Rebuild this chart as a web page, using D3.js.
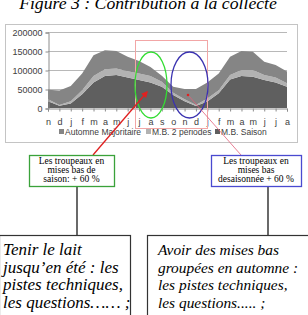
<!DOCTYPE html>
<html>
<head>
<meta charset="utf-8">
<script src="https://cdn.jsdelivr.net/npm/d3@7"></script>
<style>
	body { margin: 0; background: #fff; }
	svg { display: block; }
</style>
</head>
<body>
<div id="chart"></div>
<script>
// months, nov -> aug of the following year (22 points)
var months = ["n","d","j","f","m","a","m","j","j","a","s","o","n","d","j","f","m","a","m","j","j","a"];
var seriesNames = ["Automne Majoritaire", "M.B. 2 périodes", "M.B. Saison"];
// stacked from bottom: saison, 2 periodes, automne
var saison = [18000, 6000, 12000, 36000, 67000, 84000, 87000, 80000, 74000, 67000, 56000, 34000, 18000, 5000, 17000, 39000, 75000, 84000, 82000, 74000, 67000, 56000];
var deuxPeriodes = [5000, 2000, 6000, 11000, 17000, 18000, 17000, 17000, 17000, 17000, 13000, 6000, 5000, 3000, 8000, 8000, 12000, 16000, 18000, 13000, 13000, 9000];
var automne = [25000, 38000, 40000, 44000, 55000, 50000, 46000, 38000, 33000, 24000, 16000, 16000, 27000, 42000, 42000, 44000, 48000, 50000, 48000, 35000, 33000, 31000];
var yTicks = [0, 50000, 100000, 150000, 200000];

var W = 308, H = 315;
var svg = d3.select("#chart").append("svg")
	.attr("width", W)
	.attr("height", H);

// title (top is clipped in the original too)
svg.append("text")
	.attr("x", 148)
	.attr("y", 8.5)
	.attr("text-anchor", "middle")
	.style("font-family", "'Liberation Serif', 'DejaVu Serif', serif")
	.style("font-style", "italic")
	.style("font-size", "17.7px")
	.text("Figure 3 : Contribution à la collecte");

// chart frame
svg.append("rect")
	.attr("x", 5.5).attr("y", 24.5)
	.attr("width", 292).attr("height", 118)
	.style("fill", "none")
	.style("stroke", "#c4c4c4");

var x = d3.scalePoint().domain(d3.range(months.length)).range([48, 287]);
var y = d3.scaleLinear().domain([0, 200000]).range([108, 32]);

// gridlines
svg.selectAll(".grid")
	.data(yTicks.slice(1))
	.enter().append("line")
	.attr("x1", 48).attr("x2", 287)
	.attr("y1", function(d) { return Math.round(y(d)) + 0.5; })
	.attr("y2", function(d) { return Math.round(y(d)) + 0.5; })
	.style("stroke", "#b8b8b8");

// stacked areas
var table = months.map(function(m, i) {
	return { i: i, saison: saison[i], deux: deuxPeriodes[i], automne: automne[i] };
});
var stack = d3.stack().keys(["saison", "deux", "automne"]);
var layers = stack(table);
var colors = { saison: "#5f5f5f", deux: "#b2b2b2", automne: "#858585" };

var area = d3.area()
	.x(function(d) { return x(d.data.i); })
	.y0(function(d) { return y(d[0]); })
	.y1(function(d) { return y(d[1]); });

svg.selectAll(".layer")
	.data(layers)
	.enter().append("path")
	.attr("d", area)
	.style("fill", function(d) { return colors[d.key]; });

// axes
var yAxis = d3.axisLeft(y).tickValues(yTicks).tickSize(3).tickFormat(d3.format("d"));
var gy = svg.append("g").attr("transform", "translate(48.5,0.5)").call(yAxis);
gy.select(".domain").style("stroke", "#8c8c8c");
gy.selectAll(".tick line").style("stroke", "#8c8c8c");
gy.selectAll("text")
	.attr("x", -6)
	.style("font-family", "'Liberation Sans', Arial, sans-serif")
	.style("font-size", "9px")
	.style("fill", "#404040");

var xAxis = d3.axisBottom(x).tickSize(3).tickPadding(7).tickFormat(function(i) { return months[i]; });
var gx = svg.append("g").attr("transform", "translate(0,108.5)").call(xAxis);
gx.select(".domain").style("stroke", "#8c8c8c");
gx.selectAll(".tick line").style("stroke", "#8c8c8c");
gx.selectAll("text")
	.style("font-family", "'Liberation Sans', Arial, sans-serif")
	.style("font-size", "9px")
	.style("fill", "#404040");

// legend
var legendX = [59, 146, 215];
var legendColors = [colors.automne, colors.deux, colors.saison];
var legend = svg.selectAll(".legend")
	.data(seriesNames)
	.enter().append("g")
	.attr("transform", function(d, i) { return "translate(" + legendX[i] + ",135)"; });
legend.append("rect")
	.attr("x", 0).attr("y", -6)
	.attr("width", 5).attr("height", 5)
	.style("fill", function(d, i) { return legendColors[i]; });
legend.append("text")
	.attr("x", 6)
	.attr("y", 0)
	.style("font-family", "'Liberation Sans', Arial, sans-serif")
	.style("font-size", "8.5px")
	.style("fill", "#404040")
	.text(function(d) { return d; });

// highlight overlays
svg.append("rect")
	.attr("x", 135.5).attr("y", 40.5)
	.attr("width", 72).attr("height", 88)
	.style("fill", "none")
	.style("stroke", "#f2a6a6");

svg.append("ellipse")
	.attr("cx", 151).attr("cy", 85).attr("rx", 16).attr("ry", 33)
	.style("fill", "none").style("stroke", "#33dd33").style("stroke-width", 1.3);
svg.append("ellipse")
	.attr("cx", 189.5).attr("cy", 85).attr("rx", 18.5).attr("ry", 33)
	.style("fill", "none").style("stroke", "#3a32b0").style("stroke-width", 1.3);

// arrows
svg.append("defs").append("marker")
	.attr("id", "head")
	.attr("viewBox", "0 0 10 10")
	.attr("refX", 8).attr("refY", 5)
	.attr("markerWidth", 5).attr("markerHeight", 5)
	.attr("orient", "auto")
	.append("path")
	.attr("d", "M0,0 L10,5 L0,10 z")
	.style("fill", "#e02020");

svg.append("line")
	.attr("x1", 93).attr("y1", 155)
	.attr("x2", 147).attr("y2", 92)
	.style("stroke", "#e02020").style("stroke-width", 1.3)
	.attr("marker-end", "url(#head)");

svg.append("line")
	.attr("x1", 188).attr("y1", 95)
	.attr("x2", 241).attr("y2", 155)
	.style("stroke", "#e2607a").style("stroke-width", 0.8);
svg.append("circle")
	.attr("cx", 188).attr("cy", 95).attr("r", 1.3)
	.style("fill", "#e02020");

// small boxes
var boxes = [
	{ x: 29, w: 85, color: "#3aa23a", lines: ["Les troupeaux en", "mises bas de", "saison: + 60 %"], link: 77 },
	{ x: 211, w: 90, color: "#4a4ad0", lines: ["Les troupeaux en", "mises bas", "desaisonnée + 60 %"], link: 268 }
];
boxes.forEach(function(b) {
	svg.append("line")
		.attr("x1", b.link).attr("x2", b.link)
		.attr("y1", 186).attr("y2", 235)
		.style("stroke", "#444").style("stroke-width", 1.6);
	svg.append("rect")
		.attr("x", b.x + 0.5).attr("y", 155.5)
		.attr("width", b.w).attr("height", 31)
		.style("fill", "#fff")
		.style("stroke", b.color).style("stroke-width", 1.3);
	svg.append("text")
		.attr("text-anchor", "middle")
		.style("font-family", "'Liberation Serif', 'DejaVu Serif', serif")
		.style("font-size", "9.5px")
		.selectAll("tspan")
		.data(b.lines)
		.enter().append("tspan")
		.attr("x", b.x + b.w / 2)
		.attr("y", function(d, i) { return 163.5 + i * 9.4; })
		.text(function(d) { return d; });
});

// big boxes
var notes = [
	{ x: -1, w: 131, size: 17, lines: ["Tenir le lait", "jusqu\u2019en été : les", "pistes techniques,", "les questions…… ;"], tx: 3 },
	{ x: 147, w: 170, size: 15.4, lines: ["Avoir des mises bas", "groupées en automne :", "les pistes techniques,", "les questions..... ;"], tx: 158 }
];
notes.forEach(function(n) {
	svg.append("rect")
		.attr("x", n.x + 0.5).attr("y", 235.5)
		.attr("width", n.w).attr("height", 100)
		.style("fill", "#fff")
		.style("stroke", "#333").style("stroke-width", 1.2);
	svg.append("text")
		.style("font-family", "'Liberation Serif', 'DejaVu Serif', serif")
		.style("font-style", "italic")
		.style("font-size", n.size + "px")
		.selectAll("tspan")
		.data(n.lines)
		.enter().append("tspan")
		.attr("x", n.tx)
		.attr("y", function(d, i) { return 255 + i * 17.5; })
		.text(function(d) { return d; });
});
</script>
</body>
</html>
